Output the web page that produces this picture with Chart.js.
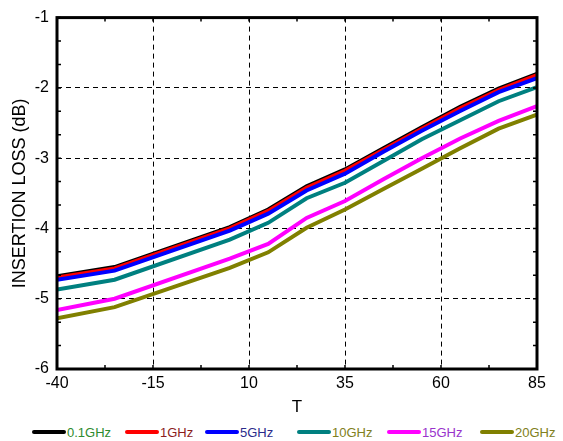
<!DOCTYPE html>
<html lang="en">
<head>
    <meta charset="UTF-8">
    <title>Insertion Loss vs Temperature</title>
    <script src="https://cdn.jsdelivr.net/npm/chart.js"></script>
    <style>
        body { margin: 0; background: #fff; font-family: "Liberation Sans", Arial, sans-serif; }
        #wrap { position: relative; width: 563px; height: 441px; }
        #box { position: absolute; left: 0; top: 0; width: 563px; height: 421px; }
        #legend { position: absolute; left: 0; top: 423px; width: 563px; height: 18px; font-size: 13px; }
        .item { position: absolute; top: 0; display: flex; align-items: center; height: 18px; white-space: nowrap; }
        .item .mark { display: inline-block; width: 34px; height: 4px; border-radius: 2px; margin-right: 1px; }
    </style>
</head>
<body>
<div id="wrap">
    <div id="box"><canvas id="lossChart"></canvas></div>
    <div id="legend"></div>
</div>

<script>
    // temperature points (x axis)
    const temps = [-40, -25, 5, 15, 25, 35, 45, 55, 65, 75, 85];

    // insertion loss in dB, one array per frequency
    const loss01GHz = [-4.68, -4.55, -3.98, -3.73, -3.40, -3.16, -2.86, -2.56, -2.27, -2.01, -1.80];
    const loss1GHz  = [-4.70, -4.57, -4.00, -3.75, -3.42, -3.18, -2.88, -2.58, -2.29, -2.03, -1.82];
    const loss5GHz  = [-4.73, -4.60, -4.03, -3.79, -3.46, -3.22, -2.91, -2.61, -2.33, -2.06, -1.86];
    const loss10GHz = [-4.87, -4.73, -4.16, -3.92, -3.57, -3.35, -3.04, -2.73, -2.46, -2.19, -1.99];
    const loss15GHz = [-5.16, -5.00, -4.43, -4.22, -3.85, -3.61, -3.30, -3.00, -2.72, -2.47, -2.26];
    const loss20GHz = [-5.28, -5.12, -4.56, -4.34, -3.99, -3.73, -3.44, -3.15, -2.86, -2.58, -2.38];

    const seriesNames = ["0.1GHz", "1GHz", "5GHz", "10GHz", "15GHz", "20GHz"];
    const seriesValues = [loss01GHz, loss1GHz, loss5GHz, loss10GHz, loss15GHz, loss20GHz];

    const xTicks = [-40, -15, 10, 35, 60, 85];
    const yTicks = [-6, -5, -4, -3, -2, -1];

    const lineColors = ["#000000", "#ff0000", "#0000ff", "#008080", "#ff00ff", "#808000"];
    const textColors = ["#2e8b2e", "#8b1c1c", "#2b2b8b", "#808020", "#9933cc", "#808020"];
    const legendLeft = [32, 125, 205, 297, 387, 480];

    const datasets = seriesNames.map((name, i) => ({
        label: name,
        data: temps.map((t, k) => ({ x: t, y: seriesValues[i][k] })),
        borderColor: lineColors[i],
        backgroundColor: lineColors[i],
        borderWidth: 4,
        pointRadius: 0,
        tension: 0,
        fill: false,
        order: seriesNames.length - i   // later series drawn on top
    }));

    // box frame plus the small inward ticks
    const framePlugin = {
        id: "frame",
        afterDatasetsDraw(chart) {
            const { ctx, chartArea: a, scales: { x, y } } = chart;
            ctx.save();
            ctx.strokeStyle = "#000";
            ctx.lineWidth = 1.5;
            ctx.beginPath();
            for (let v = xTicks[0]; v <= xTicks[xTicks.length - 1]; v += 12.5) {
                const px = x.getPixelForValue(v);
                ctx.moveTo(px, a.bottom); ctx.lineTo(px, a.bottom - 4);
                ctx.moveTo(px, a.top); ctx.lineTo(px, a.top + 4);
            }
            for (let i = 0; i <= 15; i++) {
                const py = y.getPixelForValue(yTicks[0] + i / 3);
                ctx.moveTo(a.left, py); ctx.lineTo(a.left + 4, py);
                ctx.moveTo(a.right, py); ctx.lineTo(a.right - 4, py);
            }
            ctx.stroke();
            ctx.lineWidth = 3;
            ctx.strokeRect(a.left, a.top, a.right - a.left, a.bottom - a.top);
            ctx.restore();
        }
    };

    new Chart(document.getElementById("lossChart"), {
        type: "line",
        data: { datasets: datasets },
        options: {
            responsive: true,
            maintainAspectRatio: false,
            animation: false,
            layout: { padding: { top: 16, right: 26, left: 0, bottom: 0 } },
            plugins: {
                legend: { display: false },
                tooltip: { enabled: false }
            },
            scales: {
                x: {
                    type: "linear",
                    min: xTicks[0],
                    max: xTicks[xTicks.length - 1],
                    afterBuildTicks: s => { s.ticks = xTicks.map(v => ({ value: v })); },
                    afterFit: s => { s.height = 52; },
                    ticks: {
                        color: "#000",
                        padding: 5,
                        maxRotation: 0,
                        font: { family: "Liberation Sans", size: 16 }
                    },
                    grid: { color: "#000", lineWidth: 1, drawTicks: false },
                    border: { display: false, dash: [5, 4] },
                    title: {
                        display: true,
                        text: "T",
                        color: "#000",
                        padding: { top: 0, bottom: 3 },
                        font: { family: "Liberation Sans", size: 17 }
                    }
                },
                y: {
                    min: yTicks[0],
                    max: yTicks[yTicks.length - 1],
                    afterBuildTicks: s => { s.ticks = yTicks.map(v => ({ value: v })); },
                    afterFit: s => { s.width = 57; },
                    ticks: {
                        color: "#000",
                        padding: 8,
                        font: { family: "Liberation Sans", size: 16 }
                    },
                    grid: { color: "#000", lineWidth: 1, drawTicks: false },
                    border: { display: false, dash: [5, 4] },
                    title: {
                        display: true,
                        text: "INSERTION LOSS (dB)",
                        color: "#000",
                        padding: { top: 9, bottom: 0 },
                        font: { family: "Liberation Sans", size: 18 }
                    }
                }
            }
        },
        plugins: [framePlugin]
    });

    // legend row under the chart
    const legend = document.getElementById("legend");
    seriesNames.forEach((name, i) => {
        const item = document.createElement("div");
        item.className = "item";
        item.style.left = legendLeft[i] + "px";
        item.innerHTML = '<span class="mark" style="background:' + lineColors[i] + '"></span>' +
            '<span style="color:' + textColors[i] + '">' + name + '</span>';
        legend.appendChild(item);
    });
</script>
</body>
</html>
